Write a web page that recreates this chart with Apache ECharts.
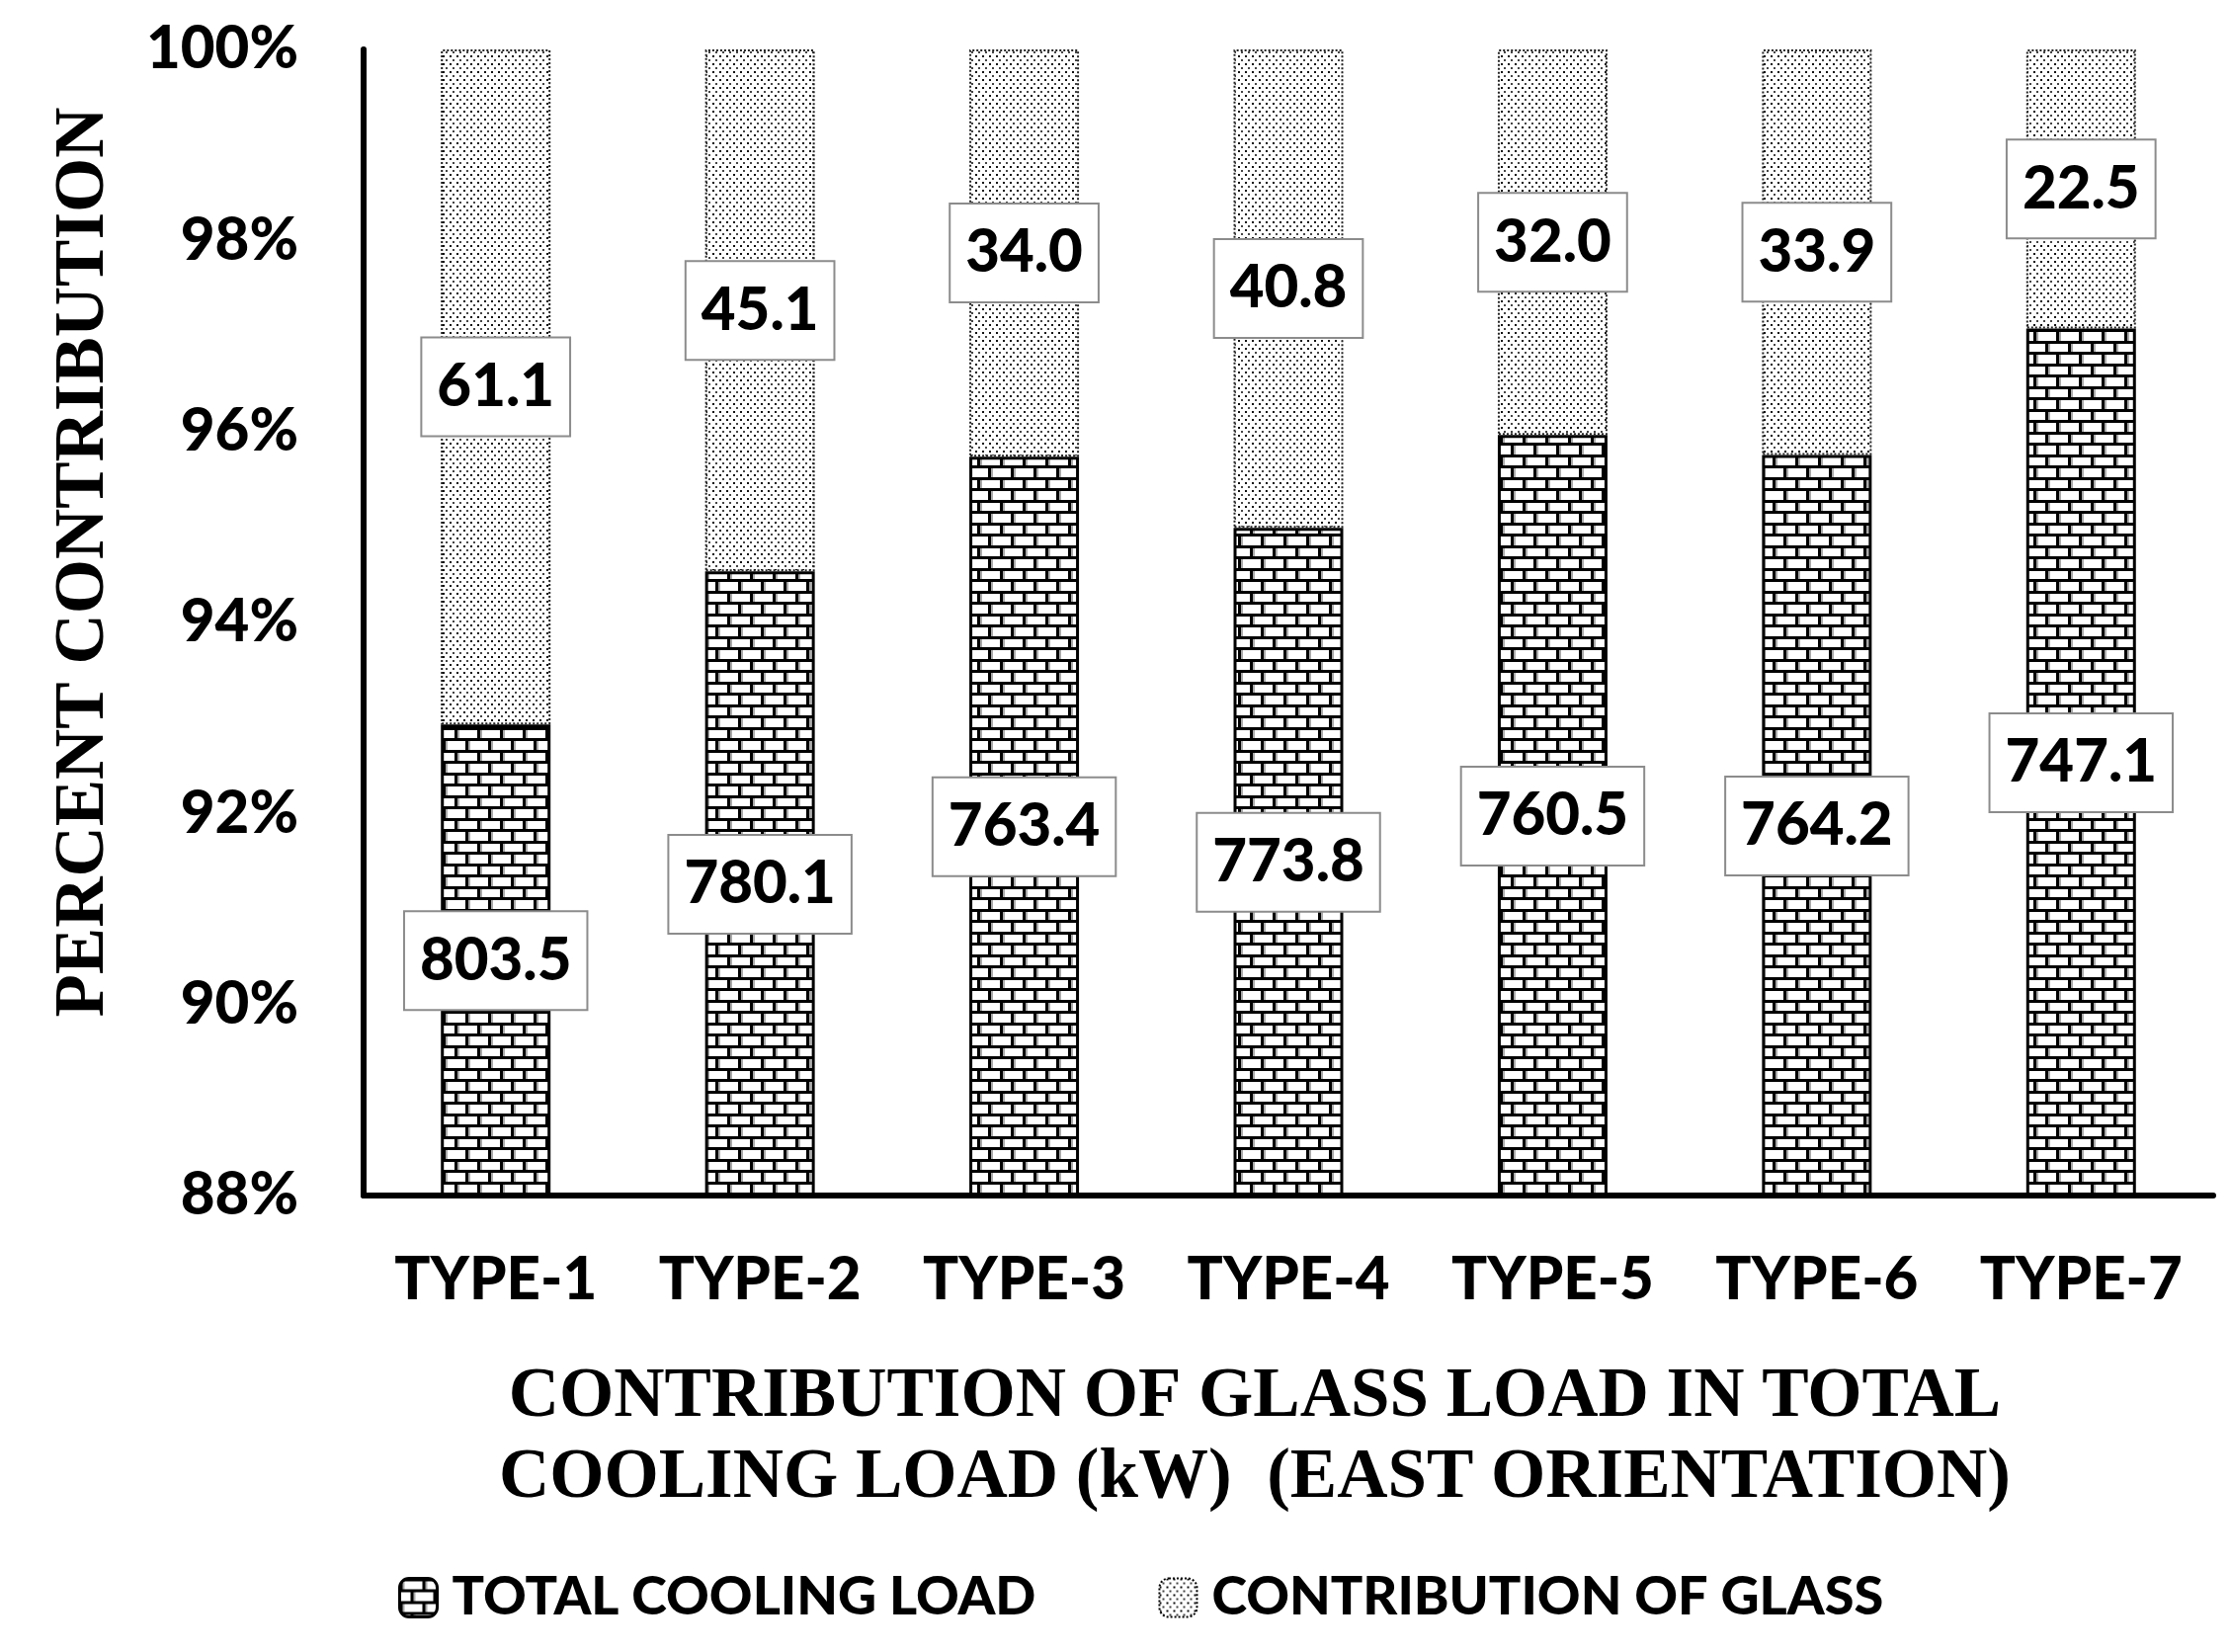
<!DOCTYPE html>
<html><head><meta charset="utf-8">
<script src="https://cdn.jsdelivr.net/npm/echarts@6/dist/echarts.min.js"></script>
<style>html,body{margin:0;padding:0;background:#fff}#c{width:2257px;height:1672px}</style>
</head><body><div id="c"></div>
<script>
// ---- data ----
const categories = ['TYPE-1', 'TYPE-2', 'TYPE-3', 'TYPE-4', 'TYPE-5', 'TYPE-6', 'TYPE-7'];
const totalCoolingLoad = [803.5, 780.1, 763.4, 773.8, 760.5, 764.2, 747.1];
const glassContribution = [61.1, 45.1, 34.0, 40.8, 32.0, 33.9, 22.5];
const seriesNames = ['TOTAL COOLING LOAD', 'CONTRIBUTION OF GLASS'];
const yMin = 88, yMax = 100, yStep = 2;
const xTitle = 'CONTRIBUTION OF GLASS LOAD IN TOTAL\nCOOLING LOAD (kW)  (EAST ORIENTATION)';
const yTitle = 'PERCENT CONTRIBUTION';

// 100% stacked shares
const totalPct = totalCoolingLoad.map((v, i) => v / (v + glassContribution[i]) * 100);
const glassPct = glassContribution.map((v, i) => v / (totalCoolingLoad[i] + v) * 100);

// ---- patterns ----
function brickPattern() {
  const c = document.createElement('canvas'); c.width = 23; c.height = 23;
  const g = c.getContext('2d');
  g.fillStyle = '#fff'; g.fillRect(0, 0, 23, 23);
  g.fillStyle = '#aaa';
  g.fillRect(3, 3, 2, 8); g.fillRect(14, 14, 2, 9);
  g.fillStyle = '#000';
  g.fillRect(0, 0, 23, 3); g.fillRect(0, 11, 23, 3);
  g.fillRect(0, 0, 3, 11); g.fillRect(11, 11, 3, 12);
  return c;
}
function dotPattern() {
  const c = document.createElement('canvas'); c.width = 7; c.height = 8;
  const g = c.getContext('2d');
  g.fillStyle = '#fff'; g.fillRect(0, 0, 7, 8);
  g.fillStyle = '#111';
  g.fillRect(0, 0, 2, 2);
  g.fillStyle = '#444';
  g.fillRect(3, 4, 2, 2);
  return c;
}
const brick = { image: brickPattern(), repeat: 'repeat' };
const dots = { image: dotPattern(), repeat: 'repeat' };

const sans = 'Lato';
const serif = 'Liberation Serif';
const heavy = 900;
const labelBase = {
  show: true, position: 'inside',
  fontFamily: sans, fontWeight: heavy, fontSize: 60, color: '#000',
  backgroundColor: '#fff', borderColor: '#8c8c8c', borderWidth: 2,
  padding: [12, 15], lineHeight: 74
};

const chart = echarts.init(document.getElementById('c'), null, { renderer: 'canvas' });
chart.setOption({
  animation: false,
  backgroundColor: '#fff',
  grid: { left: 368, right: 17, top: 50, bottom: 462, containLabel: false, outerBoundsMode: 'none' },
  legend: {
    left: 403, top: 1581, padding: 0,
    itemWidth: 38, itemHeight: 39, itemGap: 124,
    textStyle: { fontFamily: sans, fontWeight: heavy, fontSize: 54, color: '#000', lineHeight: 72, padding: [0, 0, 0, 10] },
    data: [
      { name: seriesNames[0], itemStyle: { color: brick, borderColor: '#000', borderWidth: 3 } },
      { name: seriesNames[1], itemStyle: { color: dots, borderColor: '#000', borderWidth: 2, borderType: 'dotted' } }
    ]
  },
  xAxis: {
    type: 'category', data: categories,
    axisLine: { show: true, lineStyle: { color: '#000', width: 6 } },
    axisTick: { show: false },
    axisLabel: { margin: 56, fontFamily: sans, fontWeight: heavy, fontSize: 60, color: '#000' },
    splitLine: { show: false },
    name: xTitle, nameLocation: 'middle', nameGap: 164,
    nameTextStyle: { fontFamily: serif, fontWeight: 'bold', fontSize: 71, color: '#000', lineHeight: 82, padding: [0, 68, 0, 0] }
  },
  yAxis: {
    type: 'value', min: yMin, max: yMax, interval: yStep,
    axisLine: { show: true, lineStyle: { color: '#000', width: 6 } },
    axisTick: { show: false },
    splitLine: { show: false },
    axisLabel: { formatter: '{value}%', margin: 66, fontFamily: sans, fontWeight: heavy, fontSize: 60, color: '#000' },
    name: yTitle, nameLocation: 'middle', nameGap: 247, nameRotate: 90,
    nameTextStyle: { fontFamily: serif, fontWeight: 'bold', fontSize: 71, color: '#000', padding: [0, 0, 0, 122] }
  },
  series: [
    {
      name: seriesNames[0], type: 'bar', stack: 'all', barWidth: '41.5%',
      data: totalPct,
      itemStyle: { color: brick, borderColor: '#000', borderWidth: 3 },
      label: Object.assign({}, labelBase, { formatter: p => totalCoolingLoad[p.dataIndex].toFixed(1) })
    },
    {
      name: seriesNames[1], type: 'bar', stack: 'all', barWidth: '41.5%',
      data: glassPct,
      itemStyle: { color: dots, borderColor: '#222', borderWidth: 2, borderType: 'dotted' },
      label: Object.assign({}, labelBase, { formatter: p => glassContribution[p.dataIndex].toFixed(1) })
    }
  ]
});
</script></body></html>
